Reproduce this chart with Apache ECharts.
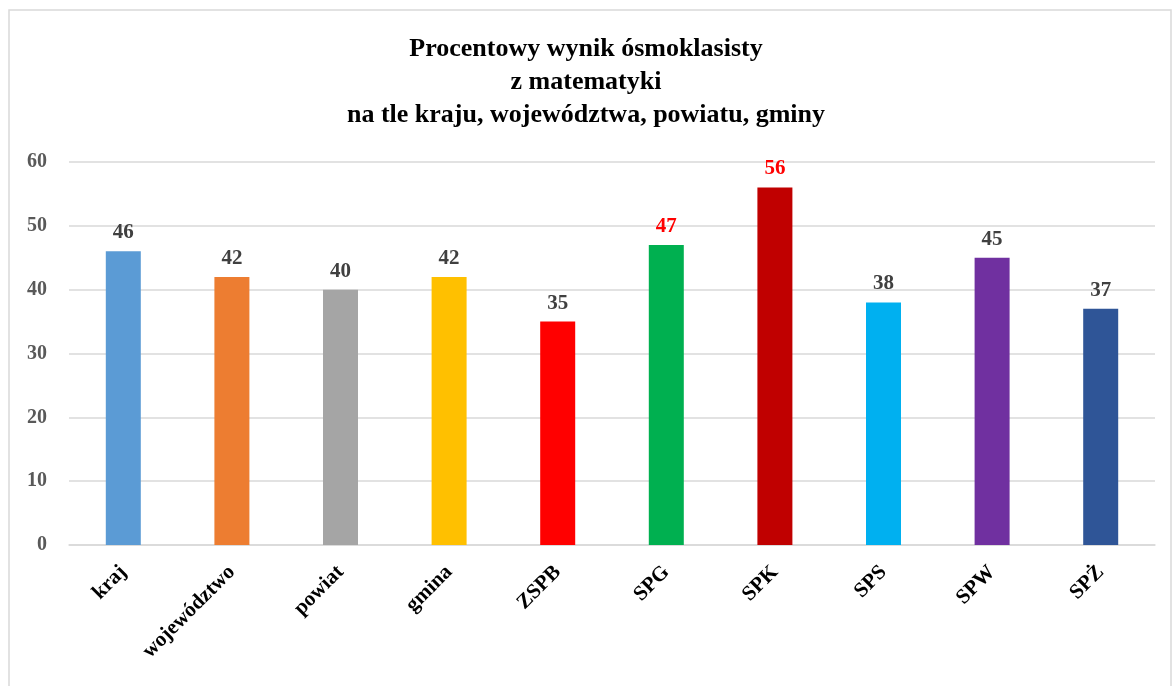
<!DOCTYPE html>
<html>
<head>
<meta charset="utf-8">
<script src="https://cdn.jsdelivr.net/npm/echarts@6/dist/echarts.min.js"></script>
<style>
  html, body { margin: 0; padding: 0; background: #fff; }
  #chart { width: 1172px; height: 686px; }
</style>
</head>
<body>
<div id="chart"></div>
<script>
// dane
var categories = ['kraj', 'województwo', 'powiat', 'gmina', 'ZSPB', 'SPG', 'SPK', 'SPS', 'SPW', 'SPŻ'];
var values = [46, 42, 40, 42, 35, 47, 56, 38, 45, 37];
var barColors = ['#5B9BD5', '#ED7D31', '#A5A5A5', '#FFC000', '#FF0000', '#00B050', '#C00000', '#00B0F0', '#7030A0', '#2F5597'];
var labelColors = ['#404040', '#404040', '#404040', '#404040', '#404040', '#FF0000', '#FF0000', '#404040', '#404040', '#404040'];
var yTicks = [0, 10, 20, 30, 40, 50, 60];

var font = '"Liberation Serif", "DejaVu Serif", serif';

var chart = echarts.init(document.getElementById('chart'));
var option = {
  animation: false,
  backgroundColor: '#fff',
  graphic: [{
    type: 'rect',
    shape: { x: 9, y: 10, width: 1162, height: 690 },
    style: { fill: 'none', stroke: '#D9D9D9', lineWidth: 1.5 },
    silent: true
  }],
  title: {
    text: 'Procentowy wynik ósmoklasisty\nz matematyki\nna tle kraju, województwa, powiatu, gminy',
    left: 'center',
    top: 28,
    textStyle: {
      fontFamily: font,
      fontWeight: 'bold',
      fontSize: 26,
      lineHeight: 33,
      color: '#000'
    }
  },
  grid: { left: 69, right: 17, top: 162, bottom: 141 },
  xAxis: {
    type: 'category',
    data: categories,
    axisLine: { lineStyle: { color: '#D9D9D9', width: 1.5 } },
    axisTick: { show: false },
    axisLabel: {
      rotate: 45,
      interval: 0,
      margin: 24,
      fontFamily: font,
      fontWeight: 'bold',
      fontSize: 21,
      color: '#000'
    }
  },
  yAxis: {
    type: 'value',
    min: yTicks[0],
    max: yTicks[yTicks.length - 1],
    interval: 10,
    axisLine: { show: false },
    axisTick: { show: false },
    splitLine: { lineStyle: { color: '#D9D9D9', width: 1.5 } },
    axisLabel: {
      margin: 22,
      fontFamily: font,
      fontWeight: 'bold',
      fontSize: 20,
      color: '#595959'
    }
  },
  series: [{
    type: 'bar',
    barWidth: 35,
    data: values.map(function (v, i) {
      return {
        value: v,
        itemStyle: { color: barColors[i] },
        label: { color: labelColors[i] }
      };
    }),
    label: {
      show: true,
      position: 'top',
      distance: 8,
      fontFamily: font,
      fontWeight: 'bold',
      fontSize: 21
    }
  }]
};
chart.setOption(option);
</script>
</body>
</html>
